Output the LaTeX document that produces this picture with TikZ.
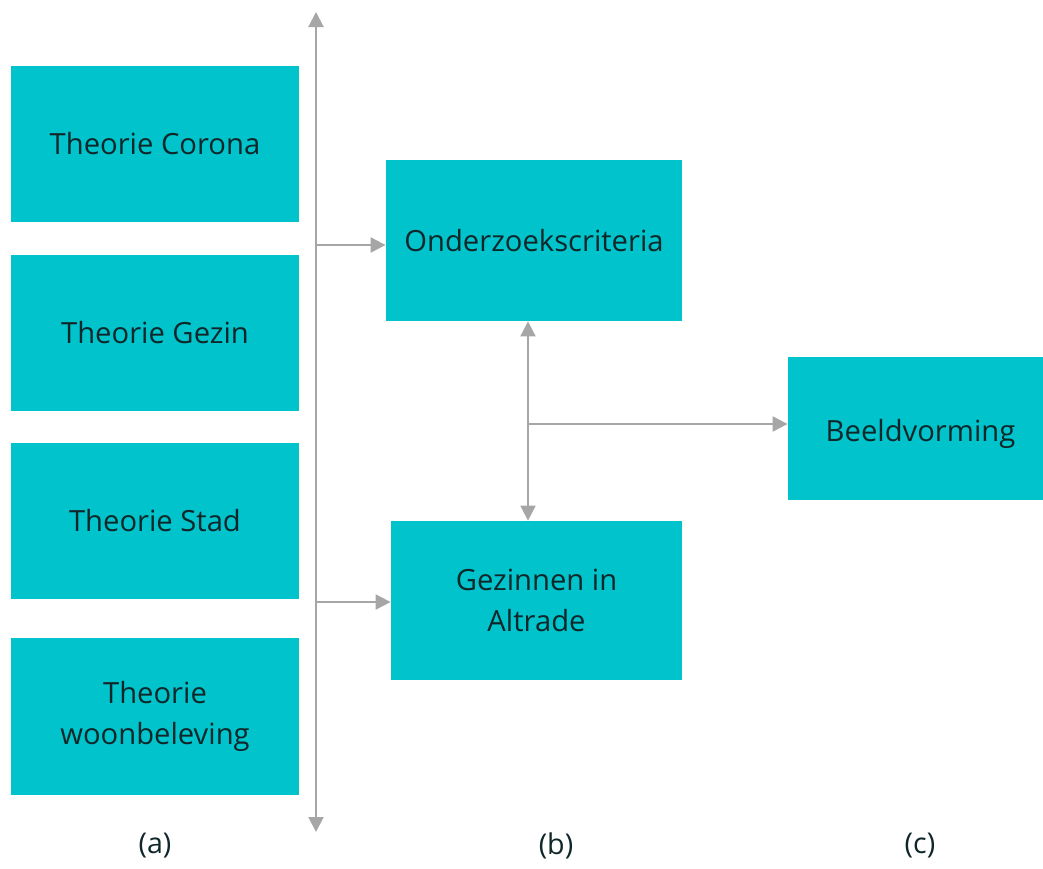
\documentclass[tikz,border=0pt]{standalone}
\usepackage{fontspec}
\setmainfont{Open Sans}
\usetikzlibrary{positioning,arrows.meta,calc}
\definecolor{boxteal}{HTML}{00C3CB}
\definecolor{linegray}{HTML}{A6A6A6}
\definecolor{textdark}{HTML}{10272A}

\begin{document}
\begin{tikzpicture}[x=0.5pt,y=-0.5pt,
  blok/.style={fill=boxteal,draw=none,align=center,text=textdark,inner sep=0pt,
    font=\fontsize{14.6}{20.5}\selectfont},
  pijl/.style={draw=linegray,line width=1pt,-{Triangle[length=7.5pt,width=7.5pt]}},
  lbl/.style={text=textdark,font=\fontsize{14.3}{17}\selectfont}]
\useasboundingbox (0,0) rectangle (1043,868);
% linker kolom: theorie
\node[blok,minimum width=144pt,minimum height=78pt] (corona) at (155,144) {Theorie Corona};
\node[blok,minimum width=144pt,minimum height=78pt] (gezin) at (155,333) {Theorie Gezin};
\node[blok,minimum width=144pt,minimum height=78pt] (stad) at (155,521) {Theorie Stad};
\node[blok,minimum width=144pt,minimum height=78.5pt] (woon) at (155,716.5) {Theorie\\woonbeleving};
% middelste kolom
\node[blok,minimum width=148pt,minimum height=80.5pt] (onderzoek) at (534,240.5) {Onderzoekscriteria};
\node[blok,minimum width=145.5pt,minimum height=79.5pt] (altrade) at (536.5,600.5) {Gezinnen in\\Altrade};
% rechter kolom
\node[blok,minimum width=127.5pt,minimum height=71.5pt,
  label={[blok,fill=none,xshift=2.5pt,yshift=-2.5pt]center:Beeldvorming}] (beeld) at (915.5,428.5) {};
% verticale as
\coordinate (astop) at (316,12);
\coordinate (asbot) at (316,832);
\draw[pijl,{Triangle[length=7.5pt,width=7.5pt]}-{Triangle[length=7.5pt,width=7.5pt]}] (astop) -- (asbot);
\draw[pijl] (316,245) -- (onderzoek.west |- 0,245);
\draw[pijl] (316,602) -- (altrade.west |- 0,602);
% koppeling b -> c
\coordinate (knoop) at (528,424);
\draw[pijl,{Triangle[length=7.5pt,width=7.5pt]}-{Triangle[length=7.5pt,width=7.5pt]}] (onderzoek.south -| knoop) -- (altrade.north -| knoop);
\draw[pijl] (knoop) -- (beeld.west |- knoop);
% kolomlabels
\node[lbl] (la) at (155,846) {(a)};
\node[lbl] (lb) at (556,846) {(b)};
\node[lbl] (lc) at (920,846) {(c)};
\end{tikzpicture}
\end{document}
